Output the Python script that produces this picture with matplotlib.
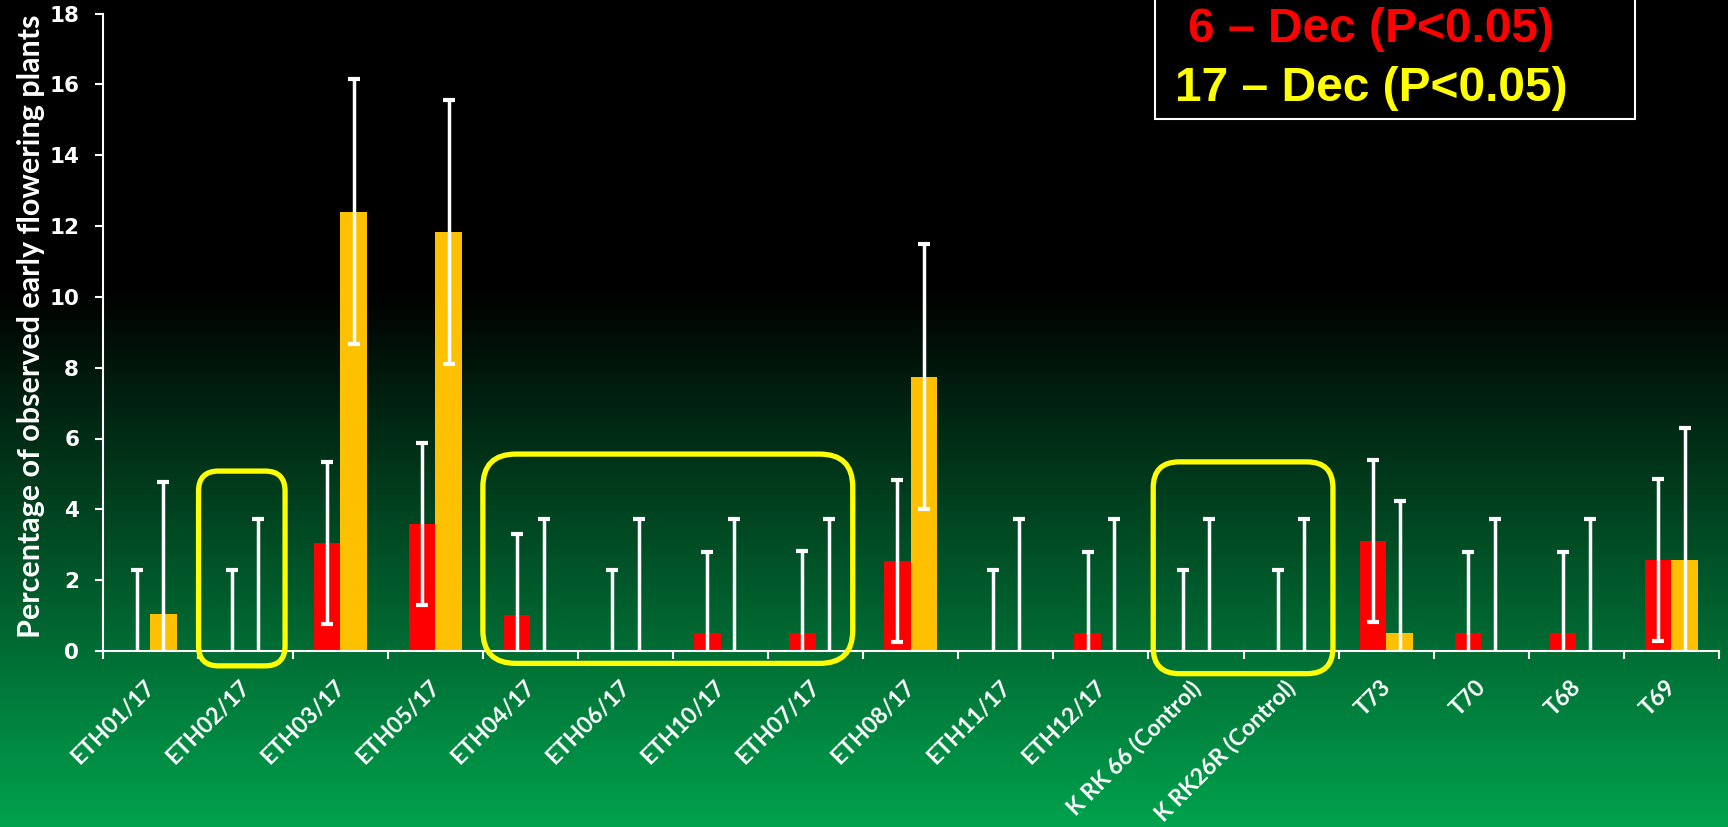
import numpy as np
import matplotlib
matplotlib.use("Agg")
import matplotlib.pyplot as plt
from matplotlib.patches import FancyBboxPatch, Rectangle
from matplotlib.transforms import IdentityTransform, ScaledTranslation

# ---------------- data ----------------
categories = ["ETH01/17", "ETH02/17", "ETH03/17", "ETH05/17", "ETH04/17", "ETH06/17",
              "ETH10/17", "ETH07/17", "ETH08/17", "ETH11/17", "ETH12/17",
              "K RK 66 (Control)", "K RK26R (Control)", "T73", "T70", "T68", "T69"]
dec6_mean = [0, 0, 3.05, 3.58, 1.01, 0, 0.51, 0.52, 2.55, 0, 0.50, 0, 0, 3.10, 0.50, 0.50, 2.56]
dec6_err = [2.28, 2.28, 2.29, 2.29, 2.29, 2.28, 2.29, 2.29, 2.29, 2.28, 2.29, 2.28, 2.28, 2.29, 2.29, 2.29, 2.29]
dec17_mean = [1.04, 0, 12.40, 11.83, 0, 0, 0, 0, 7.75, 0, 0, 0, 0, 0.50, 0, 0, 2.56]
dec17_err = [3.74, 3.74, 3.74, 3.74, 3.74, 3.74, 3.74, 3.74, 3.74, 3.74, 3.74, 3.74, 3.74, 3.74, 3.74, 3.74, 3.74]
yticks = [0, 2, 4, 6, 8, 10, 12, 14, 16, 18]
legend_lines = ["6 \u2013 Dec (P<0.05)", "17 \u2013 Dec (P<0.05)"]
# highlighted groups (first, last category index)
groups = [(1, 1), (4, 7), (11, 12)]

W, H = 1728, 827
fig = plt.figure(figsize=(W / 100, H / 100), dpi=100)

# ---------------- background gradient ----------------
bg = fig.add_axes([0, 0, 1, 1], zorder=-10)
rows = np.arange(H)
t = np.clip((rows - 290) / (H - 290), 0, 1)
top = np.array([0.0, 0.0, 0.0])
bot = np.array([0 / 255, 163 / 255, 78 / 255])
grad = top[None, :] * (1 - t[:, None]) + bot[None, :] * t[:, None]
img = np.repeat(grad[:, None, :], 4, axis=1)
bg.imshow(img, aspect="auto", extent=[0, 1, 0, 1], origin="upper", interpolation="bilinear")
bg.set_axis_off()

# ---------------- main axes ----------------
x0, x1 = 102.5, 1719
y0, y1 = 651, 13.5
ax = fig.add_axes([x0 / W, 1 - y0 / H, (x1 - x0) / W, (y0 - y1) / H])
ax.set_facecolor("none")
ax.set_xlim(-0.5, len(categories) - 0.5)
ax.set_ylim(0, 18)

x = np.arange(len(categories))
bw = 0.28
ax.bar(x - bw / 2, dec6_mean, width=bw, color="#FF0000", zorder=2)
ax.bar(x + bw / 2, dec17_mean, width=bw, color="#FFC000", zorder=2)
ekw = dict(fmt="none", ecolor="white", elinewidth=2.5, capsize=4.5, capthick=3.0, zorder=3)
ax.errorbar(x - bw / 2, dec6_mean, yerr=dec6_err, **ekw)
ax.errorbar(x + bw / 2, dec17_mean, yerr=dec17_err, **ekw)

for s in ["top", "right"]:
    ax.spines[s].set_visible(False)
for s in ["left", "bottom"]:
    ax.spines[s].set_color("white")
    ax.spines[s].set_linewidth(1.5)

ax.set_yticks(yticks)
ax.set_yticklabels([str(v) for v in yticks])
ax.tick_params(axis="y", colors="white", length=5.8, width=1.5, pad=11, labelsize=15.5)
for lab in ax.get_yticklabels():
    lab.set_fontfamily("DejaVu Sans")
    lab.set_fontweight("bold")

ax.set_xticks(np.arange(-0.5, len(categories), 1.0))
ax.set_xticklabels([])
ax.tick_params(axis="x", which="major", colors="white", length=5.8, width=1.5)
ax.set_xticks(x, minor=True)
ax.set_xticklabels(categories, minor=True, rotation=45, ha="right", va="center",
                   rotation_mode="anchor", fontsize=16.5, color="white",
                   fontfamily="Lato", fontweight="bold")
ax.tick_params(axis="x", which="minor", length=0, pad=24)
shift = ScaledTranslation(1 / 100, 0, fig.dpi_scale_trans)
for lab in ax.get_xticklabels(minor=True):
    lab.set_transform(lab.get_transform() + shift)

# ---------------- y label ----------------
ylab = fig.text(31 / W, 1 - 326 / H, "Percentage of observed early flowering plants",
                rotation=90, ha="center", va="center", color="white",
                fontsize=19, fontfamily="Lato", fontweight="bold")
fig.canvas.draw()
r = fig.canvas.get_renderer()
bb = ylab.get_window_extent(r)
ylab.set_fontsize(19 * 621 / bb.height)

# ---------------- highlight boxes ----------------
box_y = [(-0.42, 5.08), (-0.35, 5.56), (-0.64, 5.34)]
box_pad = [(0.49, 0.42), (0.50, 0.39), (0.45, 0.44)]
radii = [20, 33, 26]
for (a, b), (ylo, yhi), (pl, pr), rad in zip(groups, box_y, box_pad, radii):
    p0 = ax.transData.transform((a - pl, ylo))
    p1 = ax.transData.transform((b + pr, yhi))
    fb = FancyBboxPatch((p0[0] + rad, p0[1] + rad), p1[0] - p0[0] - 2 * rad,
                        p1[1] - p0[1] - 2 * rad,
                        boxstyle=f"round,pad={rad},rounding_size={rad}",
                        transform=IdentityTransform(), facecolor="none",
                        edgecolor="#FFFF00", linewidth=3.8, zorder=5, clip_on=False)
    fig.artists.append(fb)

# ---------------- legend box ----------------
lb = Rectangle((1155 / W, 1 - 119 / H), (1635 - 1155) / W, 0.3, transform=fig.transFigure,
               facecolor="black", edgecolor="white", linewidth=1.5, zorder=6)
fig.patches.append(lb)
fig.text(1188 / W, 1 - 42 / H, legend_lines[0], color="#FF0000", fontsize=34.5,
         fontfamily="Liberation Sans", fontweight="bold", ha="left", va="baseline", zorder=7)
fig.text(1175 / W, 1 - 101 / H, legend_lines[1], color="#FFFF00", fontsize=34.5,
         fontfamily="Liberation Sans", fontweight="bold", ha="left", va="baseline", zorder=7)

fig.savefig("out.png", dpi=100)
